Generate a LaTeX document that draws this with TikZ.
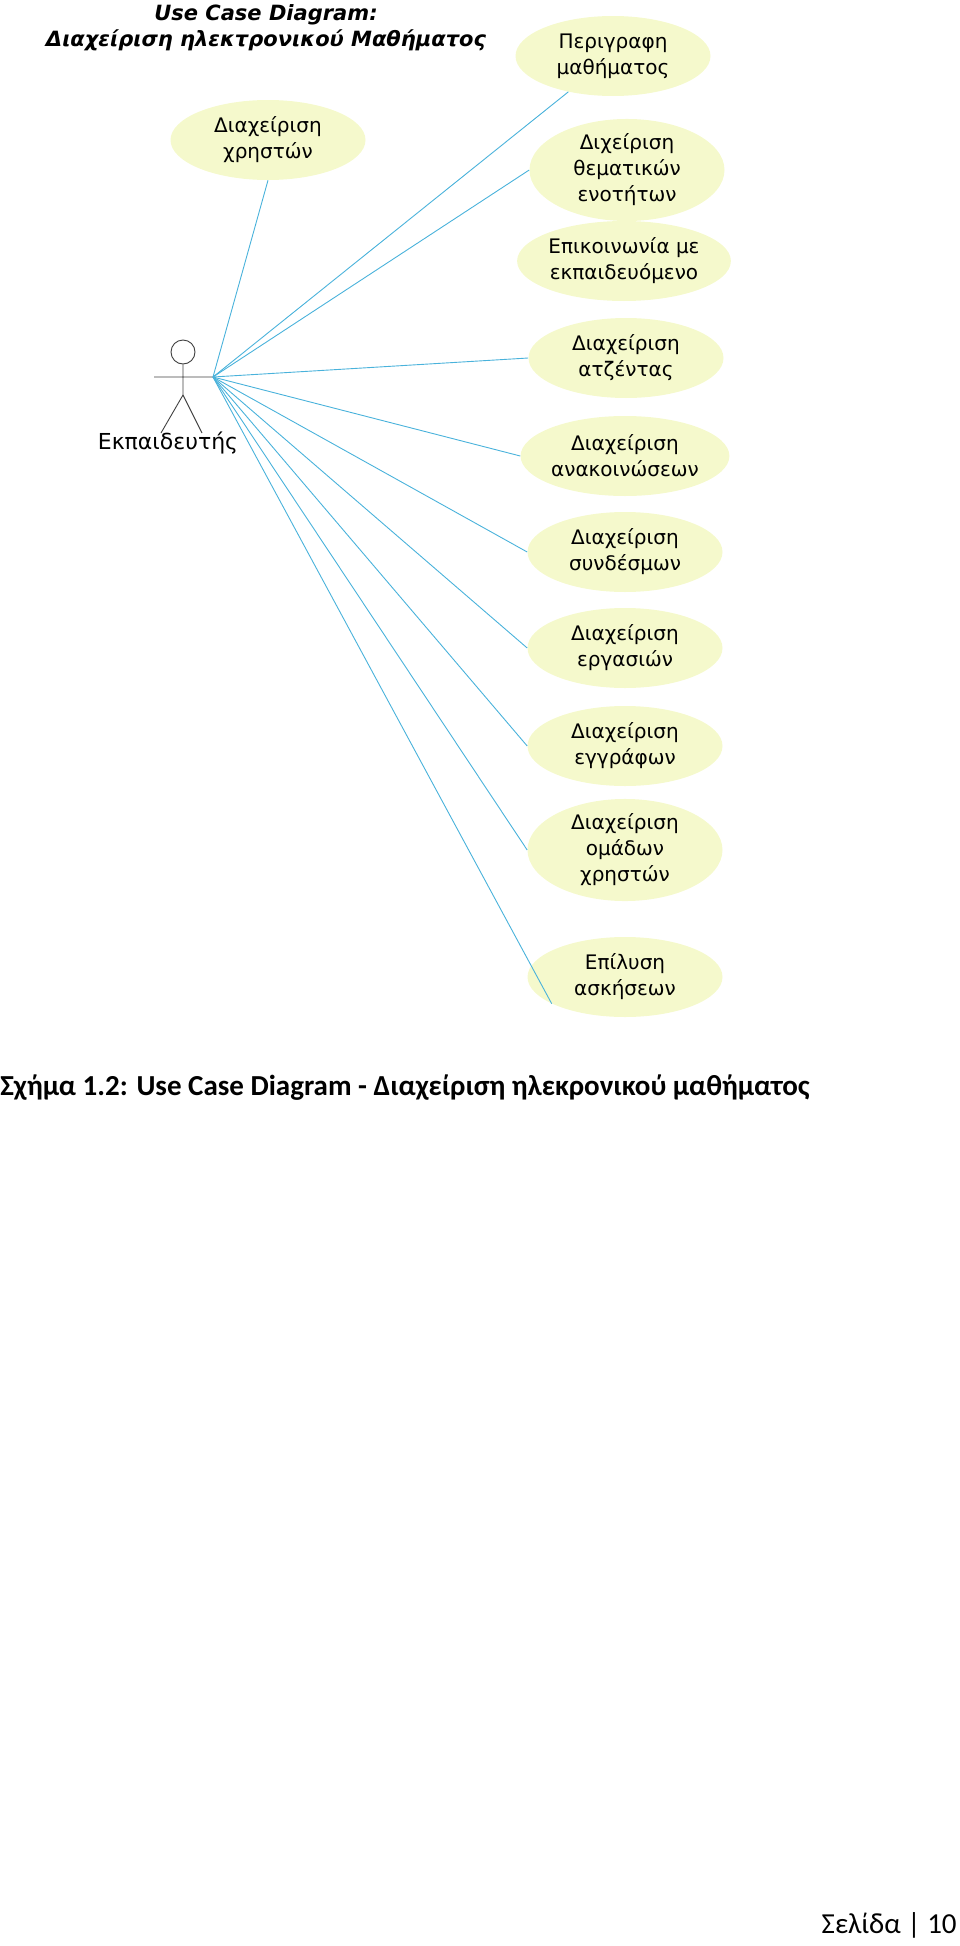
\documentclass[tikz,border=0pt]{standalone}
\usepackage{fontspec}
\setmainfont{DejaVu Sans}
\newfontfamily\capfont{Carlito}
\usetikzlibrary{shapes, positioning, calc}

\begin{document}
\begin{tikzpicture}
        [x=1pt, y=-1pt, semithick,
        usecase/.style={ellipse, fill=yellow!25!lime!20, minimum width=195pt, minimum height=80pt, inner sep=0pt, align=center, font=\fontsize{20}{26}\selectfont},
        assoc/.style={draw=cyan!70!teal!80, line width=0.9pt},
        actorline/.style={draw=black!75, line width=0.9pt}]
        \useasboundingbox (0,0) rectangle (960,1946);

        \node (title) at (266,28) [align=center, font=\fontsize{21}{26}\selectfont\bfseries\itshape]
        {Use Case Diagram:\\ Διαχείριση ηλεκτρονικού Μαθήματος};

        \node[usecase] (desc)   at (613,56)  {Περιγραφη\\ μαθήματος};
        \node[usecase] (users)  at (268,140) {Διαχείριση\\ χρηστών};
        \node[usecase, minimum height=88pt] (units) at (627,170) {Διχείριση\\ θεματικών\\ ενοτήτων};
        \node[usecase] (comm)   at (624,261) {Επικοινωνία με\\ εκπαιδευόμενο};
        \node[usecase] (agenda) at (626,358) {Διαχείριση\\ ατζέντας};
        \node[usecase] (news)   at (625,456) {Διαχείριση\\ ανακοινώσεων};
        \node[usecase] (links)  at (625,552) {Διαχείριση\\ συνδέσμων};
        \node[usecase] (tasks)  at (625,648) {Διαχείριση\\ εργασιών};
        \node[usecase] (docs)   at (625,746) {Διαχείριση\\ εγγράφων};
        \node[usecase, minimum height=92pt] (groups) at (625,850) {Διαχείριση\\ ομάδων\\ χρηστών};
        \node[usecase] (solve)  at (625,977) {Επίλυση\\ ασκήσεων};

        % actor
        \node[circle, actorline, minimum size=24pt, inner sep=0pt] (head) at (183,352) {};
        \coordinate (hand) at (213,377);
        \coordinate (lhand) at (154,377);
        \coordinate (hip) at (183,395);
        \coordinate (lfoot) at (161,433);
        \coordinate (rfoot) at (202,433);
        \draw[actorline] (head.south) -- (hip) (lhand) -- (hand) (lfoot) -- (hip) -- (rfoot);
        \node (teacher) at (168,443) [font=\fontsize{22}{24}\selectfont] {Εκπαιδευτής};

        \draw[assoc] (hand) -- (desc) (hand) -- (users.south) (hand) -- (solve.200);
        \foreach \uc in {units, agenda, news, links, tasks, docs, groups}
            \draw[assoc] (hand) -- (\uc.west);

        \node (caption) at (0,1088) [anchor=west, inner sep=0pt, font=\capfont\fontsize{29}{32}\selectfont\bfseries]
        {Σχήμα 1.2: Use Case Diagram - Διαχείριση ηλεκρονικού μαθήματος};
        \node (page) at (957,1925) [anchor=east, inner sep=0pt, font=\capfont\fontsize{29}{32}\selectfont]
        {Σελίδα | 10};
\end{tikzpicture}
\end{document}
